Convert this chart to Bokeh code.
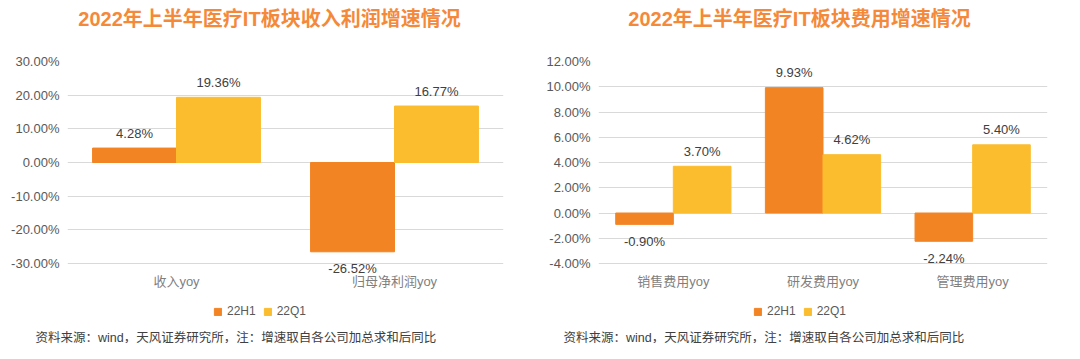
from bokeh.plotting import figure
from bokeh.models import (ColumnDataSource, FactorRange, Range1d, FixedTicker,
                          PrintfTickFormatter, LabelSet, Label, Legend, LegendItem)
from bokeh.transform import dodge
from bokeh.layouts import row, column
from bokeh.core.properties import value
from bokeh.embed import file_html
from bokeh.resources import INLINE

# ---------------- data ----------------
title_left = "2022年上半年医疗IT板块收入利润增速情况"
cats_left = ["收入yoy", "归母净利润yoy"]
h1_left = [4.28, -26.52]
q1_left = [19.36, 16.77]
ticks_left = [-30, -20, -10, 0, 10, 20, 30]

title_right = "2022年上半年医疗IT板块费用增速情况"
cats_right = ["销售费用yoy", "研发费用yoy", "管理费用yoy"]
h1_right = [-0.90, 9.93, -2.24]
q1_right = [3.70, 4.62, 5.40]
ticks_right = [-4, -2, 0, 2, 4, 6, 8, 10, 12]

series_names = ["22H1", "22Q1"]
footnote = "资料来源：wind，天风证券研究所，注：增速取自各公司加总求和后同比"

# ---------------- style ----------------
C_H1 = "#F38424"
C_Q1 = "#FBBD2E"
C_TITLE = "#F5893A"
FONT = "Liberation Sans, Noto Sans CJK SC"
W = 532
H_TOP, H_MID, H_BOT = 49, 244, 50
CORE_H = 202          # pixel height between lowest and highest tick
PAD_PX = 14           # extra frame room below the lowest tick (for value labels)
BAR_W = 0.385


def blank_fig(h):
    f = figure(width=W, height=h, x_range=Range1d(0, W), y_range=Range1d(0, h),
               output_backend="svg", toolbar_location=None,
               x_axis_location=None, y_axis_location=None,
               min_border=0, min_border_left=0, min_border_right=0,
               min_border_top=0, min_border_bottom=0, frame_align=False)
    f.outline_line_color = None
    f.grid.visible = False
    f.background_fill_color = "white"
    f.border_fill_color = "white"
    return f


def make_panel(title, cats, h1, q1, ticks, bl, br, title_cx, legend_x, foot_x):
    # ---- title strip
    t = blank_fig(H_TOP)
    t.add_layout(Label(x=title_cx, y=H_TOP - 18, x_units="screen", y_units="screen",
                       text=title, text_align="center", text_baseline="middle",
                       text_font=FONT, text_font_size="20px",
                       text_font_style="bold", text_color=C_TITLE))

    # ---- chart
    span = ticks[-1] - ticks[0]
    y_start = ticks[0] - PAD_PX * span / CORE_H
    top_border = 12
    p = figure(width=W, height=H_MID, x_range=FactorRange(*cats),
               y_range=Range1d(y_start, ticks[-1]),
               output_backend="svg", toolbar_location=None,
               min_border_left=bl, min_border_right=br,
               min_border_top=top_border,
               min_border_bottom=H_MID - top_border - CORE_H - PAD_PX,
               frame_align=False)
    p.outline_line_color = None
    p.background_fill_color = "white"
    p.border_fill_color = "white"

    lbl = lambda v: f"{v:.2f}%"
    off = lambda v: 15 if v >= 0 else -17
    src = ColumnDataSource(dict(
        cat=cats, h1=h1, q1=q1,
        h1_lbl=[lbl(v) for v in h1], q1_lbl=[lbl(v) for v in q1],
        h1_off=[off(v) for v in h1], q1_off=[off(v) for v in q1]))

    p.vbar(x=dodge("cat", -BAR_W / 2, range=p.x_range), top="h1", bottom=0,
           width=BAR_W, fill_color=C_H1, line_color=C_H1, source=src)
    p.vbar(x=dodge("cat", BAR_W / 2, range=p.x_range), top="q1", bottom=0,
           width=BAR_W, fill_color=C_Q1, line_color=C_Q1, source=src)

    for key, d in (("h1", -BAR_W / 2), ("q1", BAR_W / 2)):
        p.add_layout(LabelSet(x=dodge("cat", d, range=p.x_range), y=key,
                              text=key + "_lbl", y_offset=key + "_off",
                              text_align="center", text_baseline="middle",
                              text_font=value(FONT), text_font_size="13px",
                              text_color="#404040", source=src))

    p.yaxis.ticker = FixedTicker(ticks=ticks)
    p.yaxis.formatter = PrintfTickFormatter(format="%.2f%%")
    p.yaxis.axis_line_color = None
    p.yaxis.major_tick_line_color = None
    p.yaxis.minor_tick_line_color = None
    p.yaxis.major_tick_in = 0
    p.yaxis.major_tick_out = 0
    p.yaxis.major_label_standoff = 8
    p.yaxis.major_label_text_font = FONT
    p.yaxis.major_label_text_font_size = "13px"
    p.yaxis.major_label_text_color = "#595959"

    p.xaxis.axis_line_color = None
    p.xaxis.major_tick_line_color = None
    p.xaxis.minor_tick_line_color = None
    p.xaxis.major_tick_in = 0
    p.xaxis.major_tick_out = 0
    p.xaxis.major_label_standoff = 10 - PAD_PX
    p.xaxis.major_label_text_font = FONT
    p.xaxis.major_label_text_font_size = "13px"
    p.xaxis.major_label_text_color = "#7f7f7f"

    p.xgrid.visible = False
    p.ygrid.grid_line_color = "#d9d9d9"
    p.ygrid.grid_line_width = 1

    # ---- legend + footnote strip (legend swatches use hidden proxy renderers)
    b = blank_fig(H_BOT)
    proxy = ColumnDataSource(dict(x=[0], top=[0]))
    g1 = b.vbar(x="x", top="top", width=1, fill_color=C_H1, line_color=C_H1,
                source=proxy, visible=False)
    g2 = b.vbar(x="x", top="top", width=1, fill_color=C_Q1, line_color=C_Q1,
                source=proxy, visible=False)
    legend = Legend(items=[LegendItem(label=series_names[0], renderers=[g1]),
                           LegendItem(label=series_names[1], renderers=[g2])],
                    orientation="horizontal", location=(legend_x, H_BOT - 25),
                    glyph_width=9, glyph_height=9, label_standoff=5, spacing=7,
                    padding=0, margin=0, border_line_color=None,
                    background_fill_alpha=0, label_height=14,
                    inactive_fill_alpha=0,
                    label_text_font=FONT, label_text_font_size="12px",
                    label_text_color="#595959")
    b.add_layout(legend)
    b.add_layout(Label(x=foot_x, y=H_BOT - 44, x_units="screen", y_units="screen",
                       text=footnote, text_align="left", text_baseline="middle",
                       text_font=FONT, text_font_size="12.5px",
                       text_color="#404040"))
    return column(t, p, b)


c1 = make_panel(title_left, cats_left, h1_left, q1_left, ticks_left,
                bl=67, br=29, title_cx=269, legend_x=213, foot_x=35)
c2 = make_panel(title_right, cats_right, h1_right, q1_right, ticks_right,
                bl=66, br=17, title_cx=267, legend_x=221, foot_x=31)

layout = row(c1, c2)
open("out.html", "w").write(file_html(layout, INLINE))
